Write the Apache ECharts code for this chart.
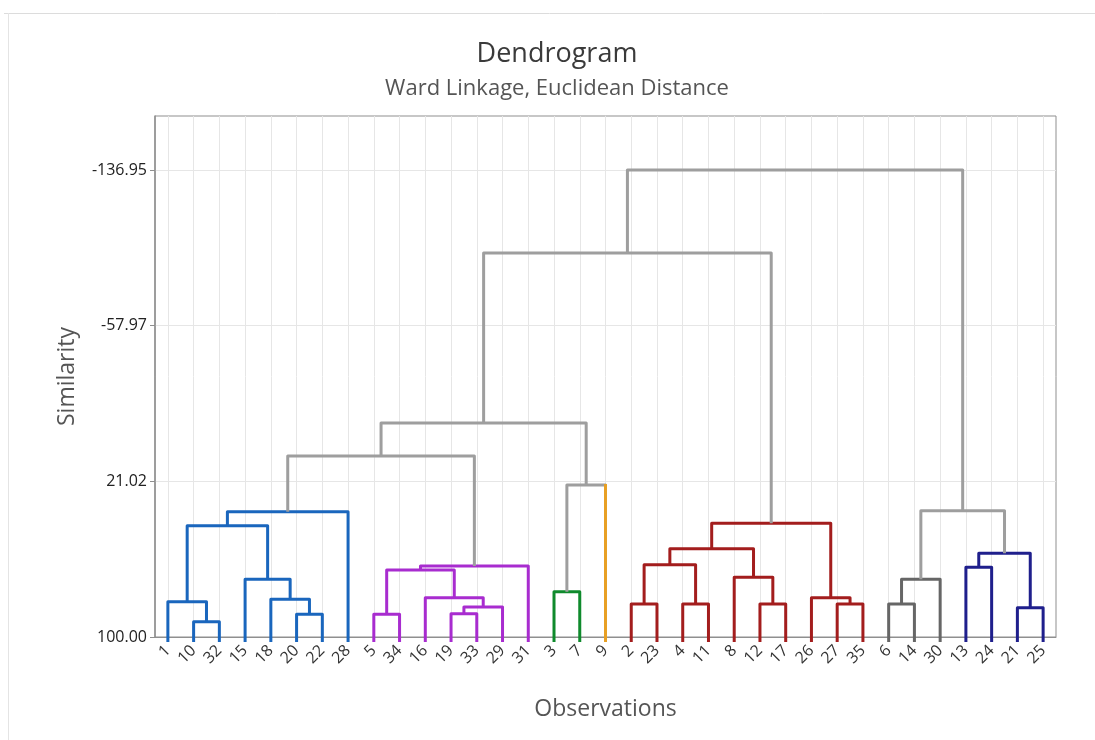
<!DOCTYPE html>
<html>
<head>
<meta charset="utf-8">
<title>Dendrogram</title>
<script src="https://cdn.jsdelivr.net/npm/echarts@6/dist/echarts.min.js"></script>
<style>
  html, body { margin: 0; padding: 0; background: #fff; }
  #chart { width: 1095px; height: 740px; }
</style>
</head>
<body>
<div id="chart"></div>
<script>
// leaf order along the x axis (observation numbers)
const leafOrder = [1, 10, 32, 15, 18, 20, 22, 28, 5, 34, 16, 19, 33, 29, 31, 3, 7, 9,
    2, 23, 4, 11, 8, 12, 17, 26, 27, 35, 6, 14, 30, 13, 24, 21, 25];

// amalgamation steps, Minitab style: clusters joined, new cluster = smaller number
const joinA   = [10, 20, 5, 19, 21, 19, 2, 4, 12, 27, 6, 1, 18, 16, 26, 3, 15, 6, 8, 5, 13, 5, 2, 13, 2, 1, 2, 1, 6, 3, 1, 1, 1, 1];
const joinB   = [32, 22, 34, 33, 25, 29, 23, 11, 17, 35, 14, 10, 20, 19, 27, 7, 18, 30, 12, 16, 24, 31, 4, 21, 8, 15, 26, 28, 13, 9, 5, 3, 2, 6];
const joinSim = [92.24, 88.48, 88.48, 88.18, 85.13, 84.78, 83.26, 83.26, 83.26, 83.26, 83.26, 82.09, 80.87, 80.06, 80.06,
    77.01, 70.72, 70.72, 69.71, 66.00, 64.63, 63.97, 63.31, 57.53, 55.20, 43.53, 42.31, 36.42, 35.92, 22.88, 8.16, -8.58, -94.84, -136.95];

// final partition (observation -> cluster)
const clusterObs = [
    [1, 10, 32, 15, 18, 20, 22, 28],
    [5, 34, 16, 19, 33, 29, 31],
    [3, 7],
    [9],
    [2, 23, 4, 11, 8, 12, 17, 26, 27, 35],
    [6, 14, 30],
    [13, 24, 21, 25]
];

const yTicks = [-136.95, -57.97, 21.02, 100.00];

const clusterColors = ['#1a66bd', '#a82ccf', '#0f8a2c', '#e8a024', '#a31d1d', '#666666', '#1f1f8c'];
const linkGray = '#9e9e9e';

const clusterOf = {};
clusterObs.forEach((obs, c) => obs.forEach(o => { clusterOf[o] = c; }));

// current clusters keyed by representative observation
const nodes = {};
leafOrder.forEach((o, i) => {
    nodes[o] = {x: i, h: 100, leaf: true, cluster: clusterOf[o]};
});

const links = [];
joinA.forEach((ja, s) => {
    const jb = joinB[s];
    const a = nodes[ja], b = nodes[jb];
    const h = joinSim[s];
    const left = a.x <= b.x ? a : b, right = a.x <= b.x ? b : a;
    const same = a.cluster !== null && a.cluster === b.cluster;
    links.push({
        value: [left.x, left.h, right.x, right.h, h],
        leftLeaf: left.leaf, rightLeaf: right.leaf,
        color: same ? clusterColors[a.cluster] : linkGray,
        leftColor: left.leaf ? clusterColors[left.cluster] : null,
        rightColor: right.leaf ? clusterColors[right.cluster] : null
    });
    delete nodes[ja];
    delete nodes[jb];
    nodes[Math.min(ja, jb)] = {x: (left.x + right.x) / 2, h: h, leaf: false, cluster: same ? a.cluster : null};
});

const leafIdx = leafOrder.map((o, i) => i);

function renderLink(params, api) {
    const d = links[params.dataIndex];
    const pL = api.coord([api.value(0), api.value(1)]);
    const pR = api.coord([api.value(2), api.value(3)]);
    const hL = api.coord([api.value(0), api.value(4)]);
    const hR = api.coord([api.value(2), api.value(4)]);
    // leaf stubs poke a few pixels below the axis
    const yL = pL[1] + (d.leftLeaf ? 5 : 0);
    const yR = pR[1] + (d.rightLeaf ? 5 : 0);
    const lw = 3;
    const children = [{
        type: 'polyline',
        shape: {points: [[pL[0], yL], [hL[0], hL[1]], [hR[0], hR[1]], [pR[0], yR]]},
        style: {stroke: d.color, lineWidth: lw, fill: null, lineJoin: 'round'}
    }];
    if (d.leftLeaf && d.leftColor !== d.color) {
        children.push({type: 'line', shape: {x1: pL[0], y1: yL, x2: hL[0], y2: hL[1] - 1},
            style: {stroke: d.leftColor, lineWidth: lw}});
    }
    if (d.rightLeaf && d.rightColor !== d.color) {
        children.push({type: 'line', shape: {x1: pR[0], y1: yR, x2: hR[0], y2: hR[1] - 1},
            style: {stroke: d.rightColor, lineWidth: lw}});
    }
    return {type: 'group', children: children};
}

const fontFamily = 'Open Sans, Noto Sans, sans-serif';
const chart = echarts.init(document.getElementById('chart'));

chart.setOption({
    backgroundColor: '#fff',
    animation: false,
    title: {
        text: 'Dendrogram',
        subtext: 'Ward Linkage, Euclidean Distance',
        left: 552,
        top: 36,
        textAlign: 'center',
        itemGap: 10,
        textStyle: {fontFamily: fontFamily, fontSize: 27, fontWeight: 'normal', color: '#3a3a3a'},
        subtextStyle: {fontFamily: fontFamily, fontSize: 22, color: '#555'}
    },
    graphic: [
        {type: 'line', shape: {x1: 4, y1: 13.5, x2: 1095, y2: 13.5}, style: {stroke: '#dcdcdc', lineWidth: 1}, silent: true},
        {type: 'line', shape: {x1: 8.5, y1: 13, x2: 8.5, y2: 740}, style: {stroke: '#e4e4e4', lineWidth: 1}, silent: true}
    ],
    grid: {
        left: 155,
        right: 39,
        top: 116,
        bottom: 103,
        show: true,
        borderColor: '#8f8f8f',
        borderWidth: 1
    },
    xAxis: {
        type: 'value',
        min: -0.5,
        max: 34.5,
        name: 'Observations',
        nameLocation: 'middle',
        nameGap: 61,
        nameTextStyle: {fontFamily: fontFamily, fontSize: 23, color: '#555'},
        axisLine: {show: true, onZero: false, lineStyle: {color: '#8f8f8f', width: 1}},
        axisTick: {show: false, customValues: leafIdx},
        axisLabel: {
            customValues: leafIdx,
            rotate: 45,
            margin: 11,
            fontFamily: fontFamily,
            fontSize: 16,
            color: '#333',
            formatter: v => String(leafOrder[Math.round(v)])
        },
        splitLine: {show: true, lineStyle: {color: '#e6e6e6', width: 1}}
    },
    yAxis: {
        type: 'value',
        inverse: true,
        min: -164.35,
        max: 100,
        name: 'Similarity',
        nameLocation: 'middle',
        nameRotate: 90,
        nameGap: 76,
        nameTextStyle: {fontFamily: fontFamily, fontSize: 23, color: '#555'},
        axisLine: {show: true, onZero: false, lineStyle: {color: '#8f8f8f', width: 1.5}},
        axisTick: {show: true, length: 5, customValues: yTicks, lineStyle: {color: '#8f8f8f'}},
        axisLabel: {
            customValues: yTicks,
            margin: 8,
            fontFamily: fontFamily,
            fontSize: 16,
            color: '#222',
            formatter: v => v.toFixed(2)
        },
        splitLine: {show: true, lineStyle: {color: '#e6e6e6', width: 1}}
    },
    series: [{
        type: 'custom',
        coordinateSystem: 'cartesian2d',
        clip: false,
        renderItem: renderLink,
        encode: {x: [0, 2], y: [1, 3, 4]},
        data: links.map(l => l.value)
    }]
});
</script>
</body>
</html>
